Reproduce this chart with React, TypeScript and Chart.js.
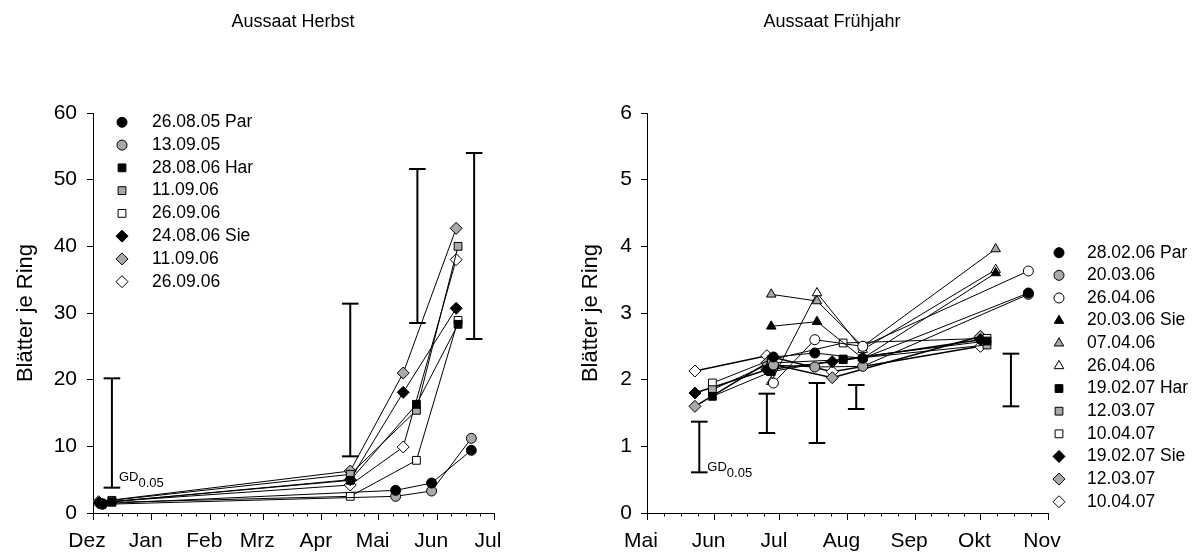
import React, { useEffect, useRef } from 'react';
import { Chart, registerables } from 'chart.js';
import { drawPoint } from 'chart.js/helpers';

Chart.register(...registerables);

const FONT = '"Liberation Sans", Arial, Helvetica, sans-serif';
const GRAY = '#a9a9a9';
const Y_TITLE = 'Blätter je Ring';

// ---------- Aussaat Herbst (x = days after 1 Dec) ----------
const herbstTitle = 'Aussaat Herbst';
const herbstMonths = ['Dez', 'Jan', 'Feb', 'Mrz', 'Apr', 'Mai', 'Jun', 'Jul'];
const herbstMonthDays = [0, 31, 62, 90, 121, 151, 182, 212];
const herbstYTicks = [0, 10, 20, 30, 40, 50, 60];

const herbstCircleDays = [5, 160, 179, 200];
const herbstSquareDays = [10, 136, 171, 193];
const herbstDiamondDays = [3, 136, 164, 192];

const herbst260805Par = [1.4, 3.4, 4.5, 9.4];
const herbst130905 = [1.3, 2.5, 3.3, 11.2];
const herbst280806Har = [1.7, 4.9, 16.3, 28.3];
const herbst110906Har = [1.9, 5.8, 15.4, 40.0];
const herbst260906Har = [1.6, 2.5, 7.9, 28.9];
const herbst240806Sie = [1.5, 5.0, 18.1, 30.7];
const herbst110906Sie = [1.7, 6.3, 21.0, 42.7];
const herbst260906Sie = [1.6, 4.2, 9.9, 38.0];

const herbstGdDays = [10, 136, 171.5, 201.5];
const herbstGdLow = [3.8, 8.5, 28.5, 26.1];
const herbstGdHigh = [20.2, 31.4, 51.6, 54.0];

// ---------- Aussaat Frühjahr (x = days after 1 May) ----------
const fruehTitle = 'Aussaat Frühjahr';
const fruehMonths = ['Mai', 'Jun', 'Jul', 'Aug', 'Sep', 'Okt', 'Nov'];
const fruehMonthDays = [0, 31, 61, 92, 123, 153, 184];
const fruehYTicks = [0, 1, 2, 3, 4, 5, 6];

const fruehCircleDays = [58, 77, 99, 175];
const fruehTriangleDays = [57, 78, 99, 160];
const fruehSquareDays = [30, 57, 90, 156];
const fruehDiamondDays = [22, 55, 85, 153];

const frueh280206Par = [2.34, 2.4, 2.32, 3.3];
const frueh200306 = [2.22, 2.19, 2.2, 3.28];
const frueh260406 = [1.95, 2.6, 2.5, 3.63];
const frueh200306Sie = [2.8, 2.87, 2.32, 3.6];
const frueh070406 = [3.28, 3.18, 2.5, 3.96];
const frueh260406Tri = [1.97, 3.3, 2.45, 3.65];
const frueh190207Har = [1.75, 2.12, 2.31, 2.58];
const frueh120307Har = [1.85, 2.25, 2.3, 2.52];
const frueh100407Har = [1.95, 2.3, 2.55, 2.62];
const frueh190207Sie = [1.8, 2.15, 2.27, 2.6];
const frueh120307Sie = [1.6, 2.25, 2.03, 2.65];
const frueh100407Sie = [2.13, 2.36, 2.12, 2.5];

const fruehGdDays = [24, 55, 78, 96, 167];
const fruehGdLow = [0.61, 1.2, 1.05, 1.56, 1.6];
const fruehGdHigh = [1.37, 1.79, 1.95, 1.92, 2.39];

type Series = { label: string; style: string; fill: string; days: number[]; values: number[]; lw?: number };

const herbstSeries: Series[] = [
  { label: '26.08.05 Par', style: 'circle', fill: '#000', days: herbstCircleDays, values: herbst260805Par },
  { label: '13.09.05', style: 'circle', fill: GRAY, days: herbstCircleDays, values: herbst130905 },
  { label: '28.08.06 Har', style: 'rect', fill: '#000', days: herbstSquareDays, values: herbst280806Har },
  { label: '11.09.06', style: 'rect', fill: GRAY, days: herbstSquareDays, values: herbst110906Har },
  { label: '26.09.06', style: 'rect', fill: '#fff', days: herbstSquareDays, values: herbst260906Har },
  { label: '24.08.06 Sie', style: 'rectRot', fill: '#000', days: herbstDiamondDays, values: herbst240806Sie },
  { label: '11.09.06', style: 'rectRot', fill: GRAY, days: herbstDiamondDays, values: herbst110906Sie },
  { label: '26.09.06', style: 'rectRot', fill: '#fff', days: herbstDiamondDays, values: herbst260906Sie },
];

const fruehSeries: Series[] = [
  { label: '28.02.06 Par', style: 'circle', fill: '#000', days: fruehCircleDays, values: frueh280206Par },
  { label: '20.03.06', style: 'circle', fill: GRAY, days: fruehCircleDays, values: frueh200306 },
  { label: '26.04.06', style: 'circle', fill: '#fff', days: fruehCircleDays, values: frueh260406 },
  { label: '20.03.06 Sie', style: 'triangle', fill: '#000', days: fruehTriangleDays, values: frueh200306Sie },
  { label: '07.04.06', style: 'triangle', fill: GRAY, days: fruehTriangleDays, values: frueh070406 },
  { label: '26.04.06', style: 'triangle', fill: '#fff', days: fruehTriangleDays, values: frueh260406Tri },
  { label: '19.02.07 Har', style: 'rect', fill: '#000', days: fruehSquareDays, values: frueh190207Har },
  { label: '12.03.07', style: 'rect', fill: GRAY, days: fruehSquareDays, values: frueh120307Har },
  { label: '10.04.07', style: 'rect', fill: '#fff', days: fruehSquareDays, values: frueh100407Har },
  { label: '19.02.07 Sie', style: 'rectRot', fill: '#000', days: fruehDiamondDays, values: frueh190207Sie, lw: 1.5 },
  { label: '12.03.07', style: 'rectRot', fill: GRAY, days: fruehDiamondDays, values: frueh120307Sie, lw: 1.5 },
  { label: '10.04.07', style: 'rectRot', fill: '#fff', days: fruehDiamondDays, values: frueh100407Sie, lw: 1.5 },
];

const RADIUS: Record<string, number> = { circle: 5, rect: 5.5, rectRot: 6, triangle: 5.5 };

type PanelCfg = {
  title: string;
  months: string[];
  monthDays: number[];
  yTicks: number[];
  series: Series[];
  gdDays: number[];
  gdLow: number[];
  gdHigh: number[];
  canvasLeft: number;
  canvasWidth: number;
  padLeft: number;
  padRight: number;
  titleX: number;
  yTitlePad: number;
  tickPadY: number;
  legendX: number;
  legendTextX: number;
  legendTop: number;
  legendStep: number;
  gdDx: number;
  gdDy: number;
};

function buildConfig(c: PanelCfg): any {
  const datasets: any[] = [];
  c.gdDays.forEach((d, i) => {
    datasets.push({
      label: 'GD',
      data: [{ x: d, y: c.gdLow[i] }, { x: d, y: c.gdHigh[i] }],
      showLine: true,
      borderColor: '#000',
      borderWidth: 2,
      pointStyle: 'line',
      pointRadius: 8.3,
      pointBorderColor: '#000',
      pointBorderWidth: 2,
      order: 10,
    });
  });
  c.series.forEach((s) => {
    datasets.push({
      label: s.label,
      data: s.days.map((d, i) => ({ x: d, y: s.values[i] })),
      showLine: true,
      borderColor: '#000',
      borderWidth: s.lw ?? 1,
      pointStyle: s.style,
      pointRadius: RADIUS[s.style],
      pointBackgroundColor: s.fill,
      pointBorderColor: '#000',
      pointBorderWidth: 1,
      tension: 0,
    });
  });

  const decor = {
    id: 'decor',
    afterDraw(chart: any) {
      const ctx = chart.ctx as CanvasRenderingContext2D;
      const xs = chart.scales.x;
      const ys = chart.scales.y;
      const bottom = chart.chartArea.bottom;
      ctx.save();
      // chart title
      ctx.fillStyle = '#000';
      ctx.font = `18px ${FONT}`;
      ctx.textAlign = 'center';
      ctx.textBaseline = 'middle';
      ctx.fillText(c.title, c.titleX, 22);
      // minor ticks
      ctx.strokeStyle = '#000';
      ctx.lineWidth = 1;
      for (let m = 0; m < c.monthDays.length - 1; m++) {
        const a = c.monthDays[m];
        const b = c.monthDays[m + 1];
        for (let k = 1; k < 4; k++) {
          const px = Math.round(xs.getPixelForValue(a + ((b - a) * k) / 4)) + 0.5;
          ctx.beginPath();
          ctx.moveTo(px, bottom);
          ctx.lineTo(px, bottom + 3.5);
          ctx.stroke();
        }
      }
      // GD label
      const gx = xs.getPixelForValue(c.gdDays[0]) + c.gdDx;
      const gy = ys.getPixelForValue(c.gdLow[0]) + c.gdDy;
      ctx.fillStyle = '#000';
      ctx.textBaseline = 'alphabetic';
      ctx.textAlign = 'left';
      ctx.font = `13px ${FONT}`;
      ctx.fillText('GD', gx, gy);
      const w = ctx.measureText('GD').width;
      ctx.fillText('0.05', gx + w, gy + 6);
      // legend
      c.series.forEach((s, i) => {
        const y = c.legendTop + i * c.legendStep;
        ctx.fillStyle = s.fill;
        ctx.strokeStyle = '#000';
        ctx.lineWidth = 1;
        drawPoint(ctx, { pointStyle: s.style, radius: RADIUS[s.style], rotation: 0, borderWidth: 1 } as any, c.legendX, y);
        ctx.fillStyle = '#000';
        ctx.font = `17.5px ${FONT}`;
        ctx.textBaseline = 'middle';
        ctx.textAlign = 'left';
        ctx.fillText(s.label, c.legendTextX, y);
      });
      ctx.restore();
    },
  };

  const tickFont = { family: FONT, size: 21 };
  return {
    type: 'scatter',
    data: { datasets },
    options: {
      responsive: false,
      animation: false,
      events: [],
      devicePixelRatio: 1,
      layout: { padding: { left: c.padLeft, right: c.padRight, top: 113, bottom: 0 } },
      plugins: {
        legend: { display: false },
        tooltip: { enabled: false },
        title: { display: false },
      },
      scales: {
        x: {
          type: 'linear',
          min: c.monthDays[0],
          max: c.monthDays[c.monthDays.length - 1],
          afterBuildTicks: (scale: any) => {
            scale.ticks = c.monthDays.map((v) => ({ value: v }));
          },
          afterFit: (scale: any) => {
            scale.height = 44;
          },
          grid: { display: true, drawOnChartArea: false, drawTicks: true, tickLength: 7, color: '#000', tickColor: '#000' },
          border: { display: true, color: '#000', width: 1 },
          ticks: {
            autoSkip: false,
            maxRotation: 0,
            color: '#000',
            font: tickFont,
            padding: 9,
            labelOffset: -6,
            callback: (v: number) => c.months[c.monthDays.indexOf(v)] ?? '',
          },
        },
        y: {
          type: 'linear',
          min: c.yTicks[0],
          max: c.yTicks[c.yTicks.length - 1],
          afterBuildTicks: (scale: any) => {
            scale.ticks = c.yTicks.map((v) => ({ value: v }));
          },
          afterFit: (scale: any) => {
            scale.width = 93;
          },
          grid: { display: true, drawOnChartArea: false, drawTicks: true, tickLength: 6, color: '#000', tickColor: '#000' },
          border: { display: true, color: '#000', width: 1 },
          ticks: { color: '#000', font: tickFont, padding: c.tickPadY },
          title: {
            display: true,
            text: Y_TITLE,
            color: '#000',
            font: { family: FONT, size: 22 },
            padding: { top: c.yTitlePad, bottom: 0 },
          },
        },
      },
    },
    plugins: [decor],
  };
}

function Panel({ cfg }: { cfg: PanelCfg }) {
  const ref = useRef<HTMLCanvasElement>(null);
  useEffect(() => {
    const chart = new Chart(ref.current as HTMLCanvasElement, buildConfig(cfg));
    return () => chart.destroy();
  }, [cfg]);
  return (
    <canvas
      ref={ref}
      width={cfg.canvasWidth}
      height={557}
      style={{ position: 'absolute', left: cfg.canvasLeft, top: 0, width: cfg.canvasWidth, height: 557 }}
    />
  );
}

const herbstCfg: PanelCfg = {
  title: herbstTitle,
  months: herbstMonths,
  monthDays: herbstMonthDays,
  yTicks: herbstYTicks,
  series: herbstSeries,
  gdDays: herbstGdDays,
  gdLow: herbstGdLow,
  gdHigh: herbstGdHigh,
  canvasLeft: 0,
  canvasWidth: 587,
  padLeft: 0,
  padRight: 93,
  titleX: 293,
  yTitlePad: 13,
  tickPadY: 10,
  legendX: 122,
  legendTextX: 152,
  legendTop: 122.3,
  legendStep: 22.77,
  gdDx: 7,
  gdDy: -6.6,
};

const fruehCfg: PanelCfg = {
  title: fruehTitle,
  months: fruehMonths,
  monthDays: fruehMonthDays,
  yTicks: fruehYTicks,
  series: fruehSeries,
  gdDays: fruehGdDays,
  gdLow: fruehGdLow,
  gdHigh: fruehGdHigh,
  canvasLeft: 468,
  canvasWidth: 728,
  padLeft: 86,
  padRight: 148,
  titleX: 364,
  yTitlePad: 24,
  tickPadY: 9,
  legendX: 591,
  legendTextX: 619,
  legendTop: 252.7,
  legendStep: 22.64,
  gdDx: 8,
  gdDy: -1.6,
};

export default function App() {
  return (
    <div style={{ position: 'fixed', left: 0, top: 0, width: 1196, height: 557, background: '#fff', overflow: 'hidden' }}>
      <Panel cfg={herbstCfg} />
      <Panel cfg={fruehCfg} />
    </div>
  );
}
